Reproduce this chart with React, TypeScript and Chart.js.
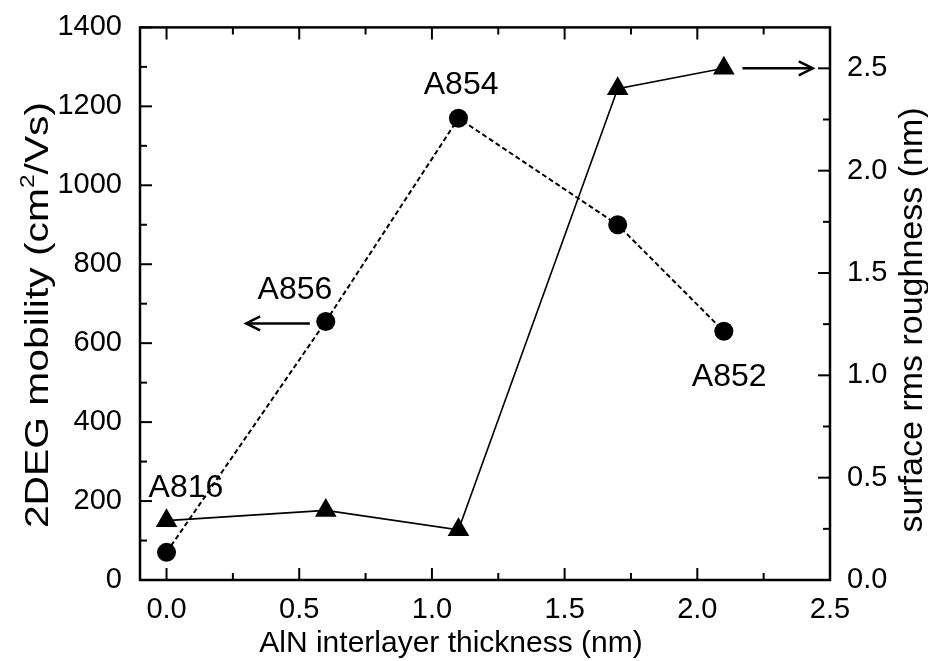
import React, { useEffect, useRef } from 'react';
import { Chart, registerables } from 'chart.js';

Chart.register(...registerables);

// ---- data ----
const thickness = [0.0, 0.6, 1.1, 1.7, 2.1];
const mobility = [70, 655, 1170, 900, 630];
const roughness = [0.29, 0.34, 0.245, 2.4, 2.5];

const sampleNames = ['A816', 'A856', 'A854', 'A852'];
const sampleLabelX = [0.073, 0.484, 1.11, 2.12];
const sampleLabelY = [240, 742, 1261, 520];

// arrows: [xFrom, xTo, y] ; left arrow on mobility axis, right arrow on roughness axis
const leftArrow = [0.54, 0.3, 650];
const rightArrow = [2.17, 2.435, 2.5];

const xTicks = [0, 0.5, 1, 1.5, 2, 2.5];
const xMinorTicks = [0.25, 0.75, 1.25, 1.75, 2.25];
const yLeftTicks = [0, 200, 400, 600, 800, 1000, 1200, 1400];
const yLeftMinorTicks = [100, 300, 500, 700, 900, 1100, 1300];
const yRightTicks = [0, 0.5, 1, 1.5, 2, 2.5];
const yRightMinorTicks = [0.25, 0.75, 1.25, 1.75, 2.25];

const xTitle = 'AlN interlayer thickness (nm)';
const yLeftTitleParts = ['2DEG mobility (cm', '2', '/Vs)'];
const yRightTitle = 'surface rms roughness (nm)';

const FONT = 'Arial, "Liberation Sans", Helvetica, sans-serif';

const decorPlugin = {
  id: 'decor',
  afterDraw(chart: any) {
    const { ctx, chartArea } = chart;
    const sx = chart.scales.x;
    const sy = chart.scales.y;
    const sy1 = chart.scales.y1;
    const { left, right, top, bottom } = chartArea;
    ctx.save();
    ctx.strokeStyle = '#000';
    ctx.fillStyle = '#000';
    ctx.lineCap = 'butt';

    // frame
    ctx.lineWidth = 2.5;
    ctx.strokeRect(left, top, right - left, bottom - top);

    // ticks (inward)
    const major = 12;
    const minor = 7;
    ctx.lineWidth = 2;
    const tickX = (v: number, len: number) => {
      const px = sx.getPixelForValue(v);
      ctx.beginPath();
      ctx.moveTo(px, bottom);
      ctx.lineTo(px, bottom - len);
      ctx.moveTo(px, top);
      ctx.lineTo(px, top + len);
      ctx.stroke();
    };
    xTicks.forEach((v) => tickX(v, major));
    xMinorTicks.forEach((v) => tickX(v, minor));
    const tickL = (v: number, len: number) => {
      const py = sy.getPixelForValue(v);
      ctx.beginPath();
      ctx.moveTo(left, py);
      ctx.lineTo(left + len, py);
      ctx.stroke();
    };
    yLeftTicks.forEach((v) => tickL(v, major));
    yLeftMinorTicks.forEach((v) => tickL(v, minor));
    const tickR = (v: number, len: number) => {
      const py = sy1.getPixelForValue(v);
      ctx.beginPath();
      ctx.moveTo(right, py);
      ctx.lineTo(right - len, py);
      ctx.stroke();
    };
    yRightTicks.forEach((v) => tickR(v, major));
    yRightMinorTicks.forEach((v) => tickR(v, minor));

    // sample labels
    const lblSize = 32;
    ctx.font = `${lblSize}px ${FONT}`;
    ctx.textAlign = 'center';
    ctx.textBaseline = 'alphabetic';
    sampleNames.forEach((name, i) => {
      const px = sx.getPixelForValue(sampleLabelX[i]);
      const py = sy.getPixelForValue(sampleLabelY[i]);
      ctx.fillText(name, px, py + lblSize * 0.358);
    });

    // arrows
    const arrow = (x0: number, x1: number, y: number) => {
      ctx.lineWidth = 2.5;
      ctx.beginPath();
      ctx.moveTo(x0, y);
      ctx.lineTo(x1, y);
      ctx.stroke();
      const dir = x1 > x0 ? 1 : -1;
      ctx.lineWidth = 2.5;
      ctx.beginPath();
      ctx.moveTo(x1 - dir * 14, y - 7);
      ctx.lineTo(x1, y);
      ctx.lineTo(x1 - dir * 14, y + 7);
      ctx.stroke();
    };
    arrow(
      sx.getPixelForValue(leftArrow[0]),
      sx.getPixelForValue(leftArrow[1]),
      sy.getPixelForValue(leftArrow[2])
    );
    arrow(
      sx.getPixelForValue(rightArrow[0]),
      sx.getPixelForValue(rightArrow[1]),
      sy1.getPixelForValue(rightArrow[2])
    );

    // x title
    const xs = 30;
    ctx.font = `${xs}px ${FONT}`;
    ctx.textAlign = 'center';
    ctx.fillText(xTitle, 451, 641 + xs * 0.358);

    // left title with superscript (slightly stretched along its length)
    const ls = 34;
    ctx.save();
    ctx.translate(36, 315);
    ctx.rotate(-Math.PI / 2);
    ctx.scale(1.2, 1);
    ctx.textAlign = 'left';
    ctx.font = `${ls}px ${FONT}`;
    const w1 = ctx.measureText(yLeftTitleParts[0]).width;
    const w3 = ctx.measureText(yLeftTitleParts[2]).width;
    ctx.font = `${ls * 0.6}px ${FONT}`;
    const w2 = ctx.measureText(yLeftTitleParts[1]).width;
    const total = w1 + w2 + w3;
    const base = ls * 0.358;
    let cx = -total / 2;
    ctx.font = `${ls}px ${FONT}`;
    ctx.fillText(yLeftTitleParts[0], cx, base);
    cx += w1;
    ctx.font = `${ls * 0.6}px ${FONT}`;
    ctx.fillText(yLeftTitleParts[1], cx, base - ls * 0.42);
    cx += w2;
    ctx.font = `${ls}px ${FONT}`;
    ctx.fillText(yLeftTitleParts[2], cx, base);
    ctx.restore();

    // right title
    const rs = 34;
    ctx.save();
    ctx.translate(910, 320);
    ctx.rotate(-Math.PI / 2);
    ctx.textAlign = 'center';
    ctx.font = `${rs}px ${FONT}`;
    ctx.fillText(yRightTitle, 0, rs * 0.358);
    ctx.restore();

    ctx.restore();
  },
};

export default function App() {
  const ref = useRef<HTMLCanvasElement>(null);

  useEffect(() => {
    const canvas = ref.current;
    if (!canvas) return;
    const tickFont = { family: FONT, size: 29 };
    const chart = new Chart(canvas, {
      type: 'scatter',
      data: {
        datasets: [
          {
            label: 'mobility',
            data: thickness.map((x, i) => ({ x, y: mobility[i] })),
            yAxisID: 'y',
            showLine: true,
            borderColor: '#000',
            backgroundColor: '#000',
            borderWidth: 2,
            borderDash: [5, 3],
            pointStyle: 'circle',
            pointRadius: 9.5,
            pointBorderWidth: 0,
            pointBackgroundColor: '#000',
          },
          {
            label: 'roughness',
            data: thickness.map((x, i) => ({ x, y: roughness[i] })),
            yAxisID: 'y1',
            showLine: true,
            borderColor: '#000',
            backgroundColor: '#000',
            borderWidth: 1.6,
            pointStyle: 'triangle',
            pointRadius: 12.5,
            pointBorderWidth: 0,
            pointBackgroundColor: '#000',
          },
        ],
      },
      options: {
        animation: false,
        responsive: false,
        maintainAspectRatio: false,
        layout: { padding: { top: 25, left: 0, right: 0, bottom: 0 } },
        plugins: {
          legend: { display: false },
          tooltip: { enabled: false },
        },
        scales: {
          x: {
            type: 'linear',
            position: 'bottom',
            min: -0.1,
            max: 2.5,
            grid: { display: false },
            border: { display: false },
            afterBuildTicks: (axis: any) => {
              axis.ticks = xTicks.map((v) => ({ value: v }));
            },
            afterFit: (s: any) => {
              s.height = 81;
            },
            ticks: {
              font: tickFont,
              color: '#000',
              padding: 5,
              maxRotation: 0,
              autoSkip: false,
              callback: (v: any) => Number(v).toFixed(1),
            },
          },
          y: {
            type: 'linear',
            position: 'left',
            min: 0,
            max: 1400,
            grid: { display: false },
            border: { display: false },
            afterBuildTicks: (axis: any) => {
              axis.ticks = yLeftTicks.map((v) => ({ value: v }));
            },
            afterFit: (s: any) => {
              s.width = 140;
            },
            ticks: {
              font: tickFont,
              color: '#000',
              padding: 10,
              autoSkip: false,
              callback: (v: any) => String(v),
            },
          },
          y1: {
            type: 'linear',
            position: 'right',
            min: 0,
            max: 2.7,
            grid: { display: false },
            border: { display: false },
            afterBuildTicks: (axis: any) => {
              axis.ticks = yRightTicks.map((v) => ({ value: v }));
            },
            afterFit: (s: any) => {
              s.width = 98;
            },
            ticks: {
              font: tickFont,
              color: '#000',
              padding: 9,
              autoSkip: false,
              callback: (v: any) => Number(v).toFixed(1),
            },
          },
        },
      },
      plugins: [decorPlugin],
    });
    return () => chart.destroy();
  }, []);

  return (
    <div style={{ position: 'absolute', left: 0, top: 0, width: 928, height: 661, background: '#fff' }}>
      <canvas ref={ref} width={928} height={661} style={{ display: 'block' }} />
    </div>
  );
}
